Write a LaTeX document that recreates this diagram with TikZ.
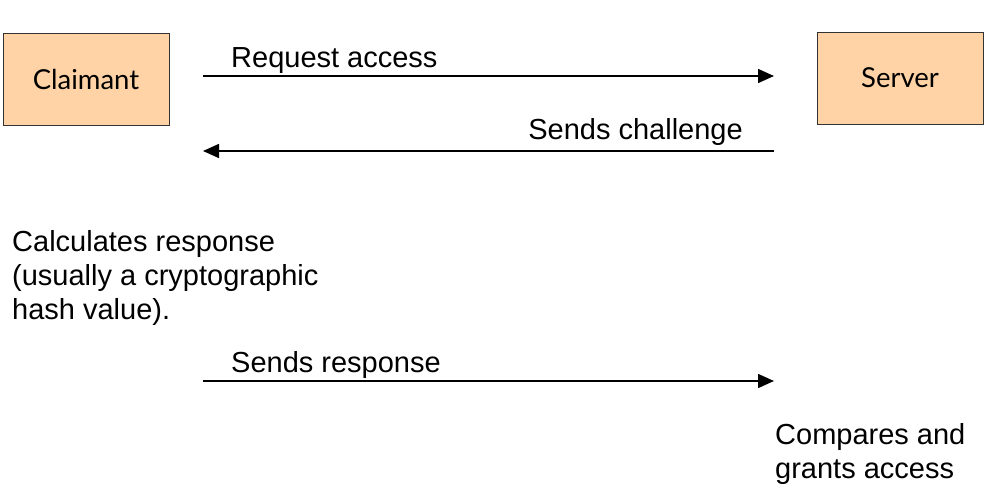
\documentclass[tikz,border=0pt]{standalone}
\usepackage{fontspec}
\setmainfont{Liberation Sans}
\newfontfamily\boxfont{Lato}
\usetikzlibrary{arrows.meta}

\definecolor{peach}{RGB}{255,211,166}

\begin{document}
\begin{tikzpicture}[x=1pt,y=-1pt,
    party/.style={draw=black!80,fill=peach,minimum width=166pt,minimum height=92pt,
      font=\boxfont\fontsize{27.5}{32}\selectfont},
    lbl/.style={inner sep=0pt,font=\fontsize{29}{34}\selectfont},
    msg/.style={line width=1.6pt,-{Triangle[length=16pt,width=14pt]}}]
  \useasboundingbox (0,0) rectangle (996,500);
  % parties
  \node[party] (claimant) at (86,79) {Claimant};
  \node[party] (server) at (900,78) {Server};
  % arrow ends
  \coordinate (reqA) at (203,76);
  \coordinate (reqB) at (774,76);
  \coordinate (chA) at (774,151);
  \coordinate (chB) at (203,151);
  \coordinate (resA) at (203,381);
  \coordinate (resB) at (774,381);
  % messages
  \draw[msg] (reqA) -- (reqB);
  \draw[msg] (chA) -- (chB);
  \draw[msg] (resA) -- (resB);
  \node[lbl,anchor=base west] (req) at (231,68) {Request access};
  \node[lbl,anchor=base east] (ch) at (743,140) {Sends challenge};
  \node[lbl,anchor=base west] (res) at (231,372) {Sends response};
  % notes
  \node[lbl,anchor=north west,align=left] (calc) at (12,230)
    {Calculates response\\(usually a cryptographic\\hash value).};
  \node[lbl,anchor=north west,align=left] (cmp) at (775,423)
    {Compares and\\grants access};
\end{tikzpicture}
\end{document}
